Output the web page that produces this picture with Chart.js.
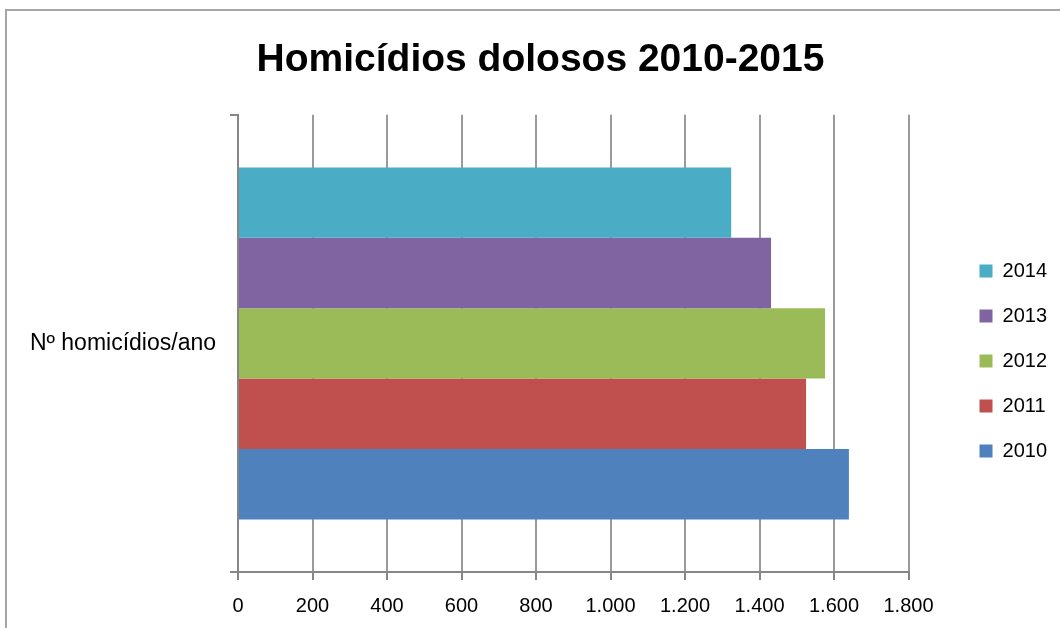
<!DOCTYPE html>
<html>
<head>
<meta charset="utf-8">
<script src="https://cdn.jsdelivr.net/npm/chart.js"></script>
<style>
body { margin: 0; background: #fff; }
#wrap { position: relative; width: 1060px; height: 628px; overflow: hidden; background: #fff; }
#frame { position: absolute; left: 5px; top: 9px; width: 1100px; height: 700px; border-left: 2px solid #a6a6a6; border-top: 2px solid #a6a6a6; }
canvas { position: absolute; left: 0; top: 0; }
</style>
</head>
<body>
<div id="wrap">
  <div id="frame"></div>
  <canvas id="barChart" width="1060" height="628"></canvas>
</div>
<script>
// Data
var categories = ["Nº homicídios/ano"];
var years = ["2014", "2013", "2012", "2011", "2010"];
var homicides = [1324, 1431, 1576, 1525, 1640];
var colors = ["#4BACC6", "#8064A2", "#9BBB59", "#C0504D", "#4F81BD"];
var xTickValues = [0, 200, 400, 600, 800, 1000, 1200, 1400, 1600, 1800];
var xTickLabels = ["0", "200", "400", "600", "800", "1.000", "1.200", "1.400", "1.600", "1.800"];

var fontName = "'Liberation Sans', Arial, sans-serif";
var axisColor = '#868686';
var gridColor = '#9a9a9a';
var legendShift = 46;
var legendDrop = 94;

Chart.defaults.font.family = fontName;
Chart.defaults.color = '#000';

// one dataset per year, bars top to bottom 2014 -> 2010
var datasets = [];
for (var i = 0; i < years.length; i++) {
    datasets.push({
        label: years[i],
        data: [homicides[i]],
        backgroundColor: colors[i],
        borderWidth: 0,
        categoryPercentage: 0.77,
        barPercentage: 1
    });
}

// push the legend away from the plot area
var legendGap = {
    id: 'legendGap',
    beforeLayout: function (chart) {
        var legend = chart.legend;
        if (legend && !legend._patched) {
            var fit = legend.fit;
            legend.fit = function () {
                fit.call(this);
                this.width += legendShift;
            };
            legend._patched = true;
        }
    },
    afterLayout: function (chart) {
        chart.legend.left += legendShift;
        chart.legend.top += legendDrop;
    }
};

var ctx = document.getElementById("barChart").getContext('2d');
var myChart = new Chart(ctx, {
    type: 'bar',
    data: {
        labels: categories,
        datasets: datasets
    },
    plugins: [legendGap],
    options: {
        responsive: false,
        animation: false,
        indexAxis: 'y',
        layout: { padding: { left: 24, right: 3, top: 0, bottom: 0 } },
        plugins: {
            title: {
                display: true,
                text: 'Homicídios dolosos 2010-2015',
                color: '#000',
                font: { size: 39, weight: 'bold' },
                padding: { top: 37, bottom: 31 }
            },
            legend: {
                display: true,
                position: 'right',
                labels: {
                    boxWidth: 13,
                    boxHeight: 13,
                    padding: 25,
                    color: '#000',
                    font: { size: 20 }
                }
            },
            tooltip: { enabled: false }
        },
        scales: {
            x: {
                min: 0,
                max: 1800,
                afterBuildTicks: function (scale) {
                    scale.ticks = xTickValues.map(function (v) { return { value: v }; });
                },
                afterFit: function (scale) {
                    scale.height = 56;
                },
                ticks: {
                    color: '#000',
                    font: { size: 20 },
                    padding: 14,
                    callback: function (value) {
                        return xTickLabels[xTickValues.indexOf(value)];
                    }
                },
                grid: {
                    color: gridColor,
                    lineWidth: 2,
                    tickLength: 8,
                    tickColor: axisColor
                },
                border: { color: axisColor, width: 2 }
            },
            y: {
                afterFit: function (scale) {
                    scale.width = 214;
                },
                ticks: {
                    color: '#000',
                    font: { size: 23 },
                    padding: 14
                },
                grid: {
                    drawOnChartArea: false,
                    drawTicks: true,
                    offset: true,
                    tickLength: 8,
                    color: axisColor,
                    lineWidth: 2
                },
                border: { color: axisColor, width: 2 }
            }
        }
    }
});
</script>
</body>
</html>
